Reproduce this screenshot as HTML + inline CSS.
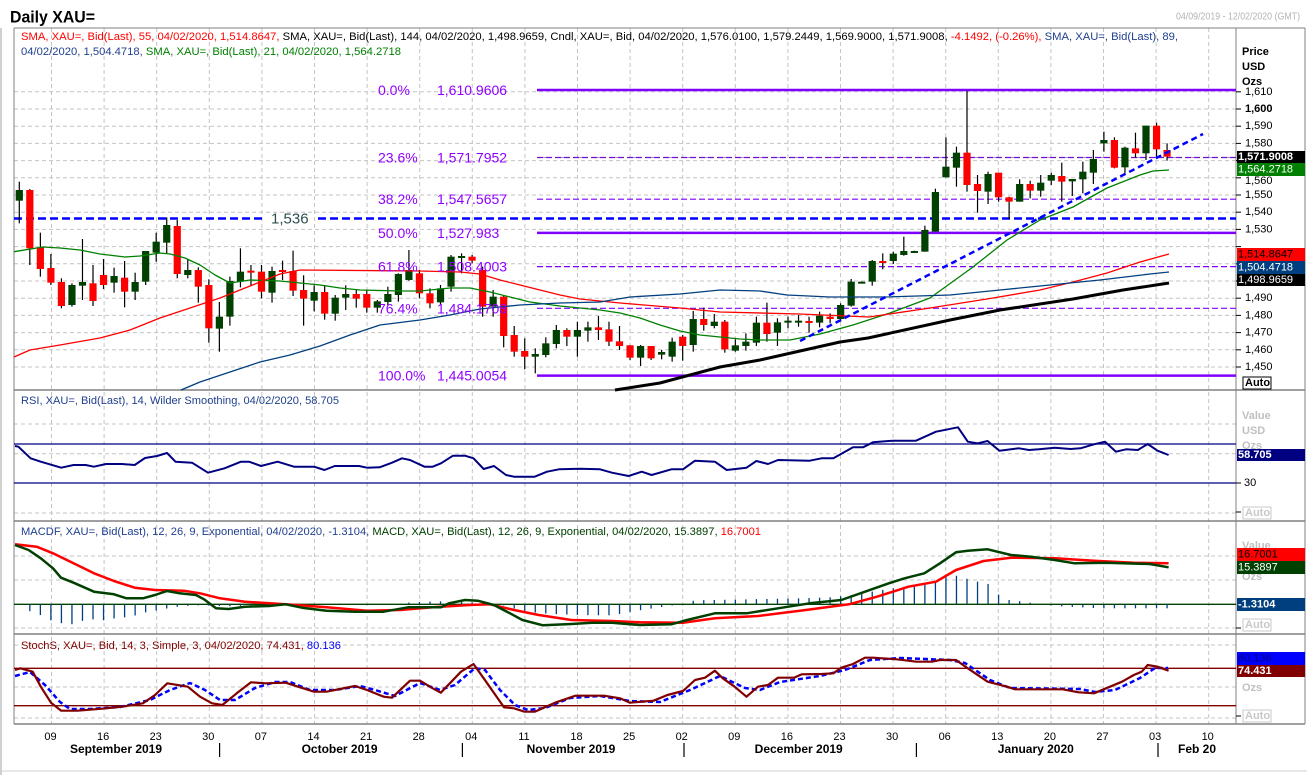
<!DOCTYPE html>
<html><head><meta charset="utf-8">
<style>
html,body{margin:0;padding:0;background:#fff;}
svg{display:block;font-family:"Liberation Sans",sans-serif;}
</style></head>
<body>
<svg id="c" width="1307" height="775" viewBox="0 0 1307 775" xmlns="http://www.w3.org/2000/svg"></svg>
<script>
(function(){
var s=[];
function L(x1,y1,x2,y2,c,w,d){s.push('<line x1="'+x1+'" y1="'+y1+'" x2="'+x2+'" y2="'+y2+'" stroke="'+c+'" stroke-width="'+(w||1)+'"'+(d?' stroke-dasharray="'+d+'"':'')+'/>');}
function R(x,y,w,h,f,st){s.push('<rect x="'+x+'" y="'+y+'" width="'+w+'" height="'+h+'" fill="'+f+'"'+(st?' stroke="'+st+'"':'')+'/>');}
function T(x,y,t,c,sz,b,extra){s.push('<text x="'+x+'" y="'+y+'" fill="'+c+'" font-size="'+sz+'"'+(b?' font-weight="bold"':'')+(extra||'')+' dominant-baseline="central">'+t+'</text>');}
function P(pts,c,w,d){var p=pts.map(function(a){return a[0]+','+a[1]}).join(' ');s.push('<polyline points="'+p+'" fill="none" stroke="'+c+'" stroke-width="'+w+'" stroke-linejoin="round"'+(d?' stroke-dasharray="'+d+'"':'')+'/>');}
var PL=14,PR=1236,FR=1305;
R(0,0,1307,775,'#fff');
// title
T(10,17,'Daily XAU=','#000',17,true,' textLength="85" lengthAdjust="spacingAndGlyphs"');
T(1176,17,'04/09/2019 - 12/02/2020 (GMT)','#b4b4b4',10,false,' textLength="124" lengthAdjust="spacingAndGlyphs"');
// grids
var gc='#c4c4c4',gd='4,3';
for(var k=0;k<23;k++){var x=51.5+52.6*k;L(x,28,x,724,gc,1,gd);}
function py(p){return 109+(1600-p)*1.72;}
for(var p=1450;p<=1610;p+=10){L(PL,py(p),PR,py(p),gc,1,gd);}
[424,453.8,513].forEach(function(y){L(PL,y,PR,y,gc,1,gd);});
[556,580,628].forEach(function(y){L(PL,y,PR,y,gc,1,gd);});
[645,687,718].forEach(function(y){L(PL,y,PR,y,gc,1,gd);});
// frames
L(1,28,1,775,'#a0a0a0',1);
L(PL,28,FR,28,'#808080',1);L(PL,28,PL,724,'#808080',1);L(FR,28,FR,724,'#808080',1);
L(PR,28,PR,724,'#808080',1);
[390,521,634,724].forEach(function(y){L(PL,y,FR,y,'#808080',1.5);});
L(0,771,1307,771,'#d0d0d0',1);
// fib lines
var fc='#8000ff';
L(537,90,PR,90,fc,2.5);L(537,157.5,PR,157.5,fc,1.2,'6,3');L(537,199.2,PR,199.2,fc,1.2,'6,3');
L(537,232.9,PR,232.9,fc,2.5);L(537,266.6,PR,266.6,fc,1.2,'6,3');L(537,308.3,PR,308.3,fc,1.2,'6,3');L(537,375.6,PR,375.6,fc,2.5);
L(537,157.5,PR,157.5,'#404040',0.6,'3,3');
// 1536 line
L(PL,218.5,264,218.5,'#0000ff',2.5,'8,4');L(318,218.5,PR,218.5,'#0000ff',2.5,'8,4');
T(271,219,'1,536','#2f4f4f',15,false);
// candles
var z4=[[35,60,92,160,'g'],[57,60,235,285,'r'],[188,232,297,320,'r'],[252,294,338,345,'r'],[325,336,408,415,'r'],[340,345,405,410,'g'],[207,336,347,390,'g'],[285,340,393,408,'r'],[267,315,345,357,'r'],[293,318,338,368,'g'],[273,323,365,412,'r'],[308,336,365,390,'g'],[243,243,335,345,'g'],[188,215,248,275,'g'],[142,165,218,250,'g'],[150,168,312,325,'r'],[268,300,315,325,'g'],[292,300,350,398,'r'],[328,345,475,518,'r'],[396,440,476,545,'g'],[320,333,440,467,'g'],[235,305,335,352,'g'],[285,302,307,348,'r'],[285,305,365,385,'r'],[290,303,368,398,'g'],[272,300,305,330,'r'],[242,303,362,378,'r'],[316,360,386,467,'r'],[346,366,392,424,'g'],[345,366,431,449,'r'],[375,383,431,452,'g'],[346,372,383,420,'g'],[360,372,386,413,'r'],[360,372,413,428,'r'],[390,394,413,428,'g'],[350,372,396,405,'g'],[310,312,375,395,'g'],[240,300,330,332,'g'],[300,310,370,385,'r']];
var z5=[[145,160,190,205,'r'],[135,145,187,195,'g'],[45,50,140,155,'g'],[40,48,50,100,'g'],[45,50,62,70,'r'],[80,90,200,230,'r'],[150,170,200,230,'g'],[165,170,288,322,'r'],[258,285,335,350,'r'],[295,333,350,388,'r'],[325,342,350,400,'g'],[292,310,345,352,'g'],[255,270,312,325,'g'],[265,270,290,318,'r'],[245,270,290,350,'g'],[245,262,272,305,'g'],[228,262,270,300,'r'],[245,268,305,318,'r'],[258,304,318,330,'r'],[315,316,353,360,'r'],[315,318,353,378,'g'],[318,318,355,360,'r'],[330,336,344,358,'g'],[293,305,350,365,'g'],[285,290,318,362,'r'],[213,237,315,335,'g'],[203,237,255,272,'r'],[222,245,258,265,'g'],[240,245,328,338,'r'],[298,316,332,335,'g'],[280,305,318,332,'g'],[230,248,308,318,'g'],[188,248,282,305,'r'],[235,247,278,318,'g'],[230,242,245,265,'g'],[225,242,245,260,'g'],[230,243,248,278,'r'],[215,227,248,262,'g'],[220,230,237,250,'r'],[190,195,237,245,'g'],[117,125,197,200,'g']];
var z6=[[605,605,609,609,'g'],[540,543,605,617,'g'],[520,543,548,568,'r'],[515,521,543,552,'g'],[470,513,525,527,'g'],[512,513,516,516,'g'],[437,450,515,515,'g'],[326,336,455,455,'g'],[172,260,292,292,'g'],[200,218,263,320,'g'],[32,218,315,335,'r'],[285,312,333,398,'r'],[275,282,335,372,'g'],[278,278,352,365,'r'],[350,352,365,418,'r'],[298,312,365,365,'g'],[302,312,332,355,'r'],[285,308,332,350,'g'],[278,285,302,315,'g'],[248,288,305,365,'r'],[297,297,304,348,'g'],[245,275,298,340,'g'],[210,237,278,312,'g'],[155,180,190,215,'g'],[172,180,263,265,'r'],[200,203,262,282,'g'],[158,205,220,232,'r'],[137,137,220,240,'g'],[128,137,208,235,'r'],[190,210,230,242,'r']];
var C=[];
z4.forEach(function(a){C.push([170+a[0]/3,170+a[1]/3,170+a[2]/3,170+a[3]/3,a[4]]);});
z5.forEach(function(a){C.push([240+a[0]/3,240+a[1]/3,240+a[2]/3,240+a[3]/3,a[4]]);});
z6.forEach(function(a){C.push([80+a[0]/3,80+a[1]/3,80+a[2]/3,80+a[3]/3,a[4]]);});
C.forEach(function(a,i){var x=19.3+i*10.53;L(x,a[0],x,a[3],'#000',1.2);var h=Math.max(a[2]-a[1],2);R(x-3.6,a[1],7.2,h,a[4]=='g'?'#004000':'#ff0000');});
// MAs
P([[14,251.7],[43,247],[60,248],[80,250],[100,254],[125,257],[140,256],[160,253],[170,254],[185,258],[200,265],[215,275],[230,283],[250,280],[280,281],[300,283],[320,285],[340,288],[360,290],[400,291],[420,291],[450,288],[470,288],[490,292],[510,297],[530,302],[560,306],[580,308],[600,310],[620,313],[640,318],[660,325],[680,331],[700,335],[720,337],[740,339],[760,340],[790,340],[820,334],[853,325],[890,313],[930,298],[973,267],[1007,240],[1040,220],[1073,207],[1107,188],[1140,175],[1153,171],[1169,170]],'#008000',1.3);
P([[14,357],[30,350],[60,345],[100,338],[130,330],[160,318],[190,308],[220,298],[240,290],[260,282],[280,274],[300,270],[420,271],[460,272],[480,274],[500,280],[520,285],[540,290],[560,295],[580,299],[620,303],[680,308],[720,312],[800,314],[869,317],[930,308],[987,299],[1040,290],[1073,282],[1107,273],[1140,262],[1169,254]],'#ff0000',1.3);
P([[181,390],[200,382],[230,372],[260,362],[290,355],[320,346],[350,335],[380,325],[420,320],[450,315],[480,309],[520,305],[560,303],[600,302],[630,297],[680,294],[720,290],[760,291],[787,295],[830,297],[885,297],[950,295],[1000,290],[1050,285],[1100,280],[1150,274],[1169,272]],'#003f7f',1.3);
P([[615,390],[660,383],[720,367],[760,360],[800,351],[840,342],[868,338],[950,320],[1000,310],[1073,299],[1123,290],[1169,283]],'#000',3);
// trendline
L(800,341,1203,134,'#0000ff',2.5,'6,4');
// fib labels
[['0.0%','1,610.9606',90],['23.6%','1,571.7952',157.5],['38.2%','1,547.5657',199.2],['50.0%','1,527.983',232.9],['61.8%','1,508.4003',266.6],['76.4%','1,484.1708',308.3],['100.0%','1,445.0054',375.6]].forEach(function(a){T(378,a[2],a[0],'#9000ff',14);T(437,a[2],a[1],'#9000ff',14);});
// legend main
s.push('<text x="21" y="37" font-size="11" dominant-baseline="central" textLength="1157" lengthAdjust="spacingAndGlyphs"><tspan fill="#ff0000">SMA, XAU=, Bid(Last),  55, 04/02/2020, 1,514.8647, </tspan><tspan fill="#000">SMA, XAU=, Bid(Last),  144, 04/02/2020, 1,498.9659, Cndl, XAU=, Bid, 04/02/2020, 1,576.0100, 1,579.2449, 1,569.9000, 1,571.9008, </tspan><tspan fill="#ff0000">-4.1492, (-0.26%), </tspan><tspan fill="#1f3f8f">SMA, XAU=, Bid(Last),  89,</tspan></text>');
s.push('<text x="21" y="52" font-size="11" dominant-baseline="central" textLength="380" lengthAdjust="spacingAndGlyphs"><tspan fill="#1f3f8f">04/02/2020, 1,504.4718, </tspan><tspan fill="#008000">SMA, XAU=, Bid(Last),  21, 04/02/2020, 1,564.2718</tspan></text>');
// right axis main
T(1242,52,'Price','#000',11,true);T(1242,67,'USD','#000',11,true);T(1242,82,'Ozs','#000',11,true);
for(var p=1450;p<=1610;p+=10){var y=py(p);L(PR,y,PR+5,y,'#000',1);if(p!=1560&&p!=1520&&p!=1510&&p!=1500)T(1245,y,(p+'').replace(/^(\d)/,'$1,'),'#000',11,p==1600);}
T(1245,py(1560)+3,'1,560','#000',11);
function box(y1,y2,bg,fg,t,b){R(PR+1,y1,FR-PR-1,y2-y1,bg);T(PR+2,(y1+y2)/2,t,fg,11,b!==false);}
box(151,163,'#000','#fff','1,571.9008');box(163,176,'#008000','#fff','1,564.2718',false);
box(248,261,'#ff0000','#000','1,514.8647',false);box(261,274,'#003f7f','#fff','1,504.4718',false);box(274,286,'#000','#fff','1,498.9659',false);
R(1243,377,28,12,'#fff','#000');T(1245,383,'Auto','#000',11,true);
// RSI
T(21,401,'RSI, XAU=, Bid(Last),  14, Wilder Smoothing, 04/02/2020, 58.705','#1f3f8f',11,false,' textLength="318" lengthAdjust="spacingAndGlyphs"');
L(PL,444,PR,444,'#000080',1.3);L(PL,483,PR,483,'#000080',1.3);
P([[15,446],[18.4,446.7],[30.6,458.3],[40.8,461.7],[61.2,467.7],[73.5,465],[85.7,465],[93.9,466.7],[106,464],[122,464],[134.7,465],[145,458],[157,456],[167,453],[175.5,461.7],[192,462.7],[208,472.7],[224.5,468.3],[241,461.7],[249,461.7],[261,466],[277.6,461.7],[294,466.7],[314,466.7],[324.5,470],[334.7,466],[359,466],[367,467.7],[379.6,467.3],[392,462.7],[402,458.3],[410,460],[424.5,466.7],[432.7,466.7],[441,463.3],[453,455.7],[465,455.7],[473.5,458.3],[483.7,469],[494,466],[506,475],[514,476.7],[534.7,476.7],[547,471.7],[559,469.3],[579.6,468.7],[600,469.3],[612,472.7],[628.6,476],[641.7,471.7],[651.6,475],[671.4,469.3],[683,469.3],[695,460.7],[714.9,461.7],[726.7,470],[746.5,467.7],[756.4,461],[768,464],[778,460],[809.7,460.7],[821.6,458.3],[833.4,458.3],[853,447.3],[863,447.3],[873,442.3],[892.7,440.7],[916,440.7],[936,431.7],[948,429.3],[958,427.3],[967.8,441.7],[977.7,443.3],[987.6,441],[999.4,450.7],[1019,448.3],[1029,450],[1039,449.3],[1054.8,447.7],[1070.6,449],[1080.5,448.3],[1094,444.3],[1105,441.7],[1116,451.7],[1126,449.3],[1137.8,450],[1147.7,444],[1157.5,450.7],[1168.6,455]],'#000080',2);
T(1242,416,'Value','#c0c0c0',11,true);T(1242,431,'USD','#c0c0c0',11,true);T(1242,446,'Ozs','#c0c0c0',11,true);
box(449,461,'#000080','#fff','58.705');
L(PR,483,PR+5,483,'#000',1);T(1244,483,'30','#000',11);
L(PR,512,PR+5,512,'#000',1);R(1243,507,28,12,'#fff','#c8c8c8');T(1245,513,'Auto','#c8c8c8',11,true);
// MACD
s.push('<text x="21" y="532" font-size="11" dominant-baseline="central" textLength="740" lengthAdjust="spacingAndGlyphs"><tspan fill="#1f3f8f">MACDF, XAU=, Bid(Last),  12, 26, 9, Exponential, 04/02/2020, -1.3104, </tspan><tspan fill="#004000">MACD, XAU=, Bid(Last),  12, 26, 9, Exponential, 04/02/2020, 15.3897, </tspan><tspan fill="#ff0000">16.7001</tspan></text>');
L(PL,604.3,PR,604.3,'#004000',1.3);
var hb=[[19,0],[30,7],[41,11],[51,16],[62,19],[73,20],[84,16],[94,15],[104,16],[115,14],[125,13],[136,11],[146,8],[157,6],[168,4],[180,2],[200,1],[230,2],[260,1],[300,0],[400,0],[410,-2],[440,-3],[470,-2],[500,0],[520,6],[540,9],[560,10],[590,11],[612,11],[640,6],[680,0],[695,-4],[750,-5],[800,-6],[830,-7],[850,-9],[880,-14],[900,-17],[930,-21],[945,-27],[955,-29],[965,-26],[980,-22],[990,-20],[1000,-8],[1010,-4],[1021,-3],[1040,0],[1060,2],[1100,4],[1170,4]];
function hv(x){for(var i=1;i<hb.length;i++){if(x<=hb[i][0]){var a=hb[i-1],b=hb[i];return a[1]+(b[1]-a[1])*(x-a[0])/(b[0]-a[0]);}}return 0;}
for(var i=0;i<110;i++){var x=19.3+i*10.53;var v=hv(x);if(Math.abs(v)>0.8)L(x,604.3,x,604.3+v,'#003f7f',1.3);}
P([[15,544.3],[36.7,546.7],[53,553.3],[73.5,563.3],[94,573.3],[114,581],[134.7,587.7],[155,590],[183.7,590.7],[200,593.3],[220,598.3],[245,601.7],[285.7,604.3],[326.5,607.3],[367,610.7],[400,610],[432.7,607.3],[469.4,605],[490,604.3],[514,610],[538.8,615],[571.4,620],[612,621],[640,622.3],[683,622.7],[714.9,618.3],[758,616],[805.8,610],[849,604.3],[877,596.7],[908.5,586.7],[936,581.7],[956,570],[983.6,561],[1011,557.7],[1054.8,558.3],[1094,560.7],[1133.8,562.7],[1168.6,563.3]],'#ff0000',2.5);
P([[15,545],[28.6,550],[40.8,558.3],[53,568.3],[61,577.7],[73.5,582.7],[94,591.7],[114,594.3],[126.5,598.3],[143,598.3],[155,595],[167,591],[179.6,593.3],[196,595],[204,599.3],[216,608.3],[228.6,609],[245,606.7],[269,606],[285.7,604.3],[302,607.7],[326.5,610.7],[355,611.7],[383.7,611.7],[408,607.3],[441,607.3],[449,603.3],[465,600],[477.6,600.7],[494,605],[510,613.3],[522.4,620],[543,625.3],[571.4,624],[592,622.7],[612,622.7],[639.8,625],[671.4,624.3],[687,620],[714.9,613.3],[746.5,613.3],[778,608.3],[809.7,603.3],[841.3,600],[865,591.7],[888.8,583.3],[904.6,578.3],[924.3,573.3],[940,563.3],[956,552.3],[967.8,550.7],[987.6,549.3],[1011,555],[1031,556.7],[1054.8,560],[1074.5,563.3],[1106,562.7],[1149.6,564],[1168.6,567.3]],'#004000',2.5);
T(1242,546,'Value','#c0c0c0',11,true);T(1242,577,'Ozs','#c0c0c0',11,true);
box(548,561,'#ff0000','#000','16.7001',false);box(561,574,'#004000','#fff','15.3897',false);box(598,611,'#003f7f','#fff','-1.3104');
L(PR,628,PR+5,628,'#000',1);R(1243,619,28,12,'#fff','#c8c8c8');T(1245,625,'Auto','#c8c8c8',11,true);
// Stoch
s.push('<text x="21" y="646" font-size="11" dominant-baseline="central" textLength="320" lengthAdjust="spacingAndGlyphs"><tspan fill="#800000">StochS, XAU=, Bid,  14, 3, Simple, 3, 04/02/2020, 74.431, </tspan><tspan fill="#0000ff">80.136</tspan></text>');
L(PL,668.3,PR,668.3,'#800000',1.3);L(PL,705.7,PR,705.7,'#800000',1.3);
P([[15,676],[30,672],[45,685],[60,702],[70,709],[90,709],[120,707],[150,700],[170,690],[190,683],[205,690],[220,700],[235,700],[255,688],[275,682],[290,682],[310,690],[335,690],[360,686],[375,690],[395,696],[420,683],[440,690],[455,685],[475,668],[485,670],[500,690],[515,705],[528,710],[545,708],[570,698],[600,696],[630,701],[660,702],[690,690],[720,676],[745,688],[760,690],[780,682],[820,676],[845,670],[870,660],[900,658],[950,660],[965,663],[990,680],[1010,688],[1080,689],[1095,692],[1115,690],[1140,678],[1155,668],[1168,668]],'#0000ff',2.5,'5,3');
P([[15,670],[20.4,668.3],[32.7,671.7],[40.8,686.7],[51,702.7],[61.2,710.7],[77.6,710.7],[102,708.7],[122.4,706.7],[142.9,703.3],[155,695],[167.3,683.3],[187.8,686.7],[200,696.7],[212,703.3],[222.4,705],[236.7,693.3],[251,682.3],[265.3,683.3],[285.7,682.7],[298,686.7],[314,691.7],[326.5,691.7],[355,686],[367,690],[383.7,696.7],[392,697.7],[410,680.7],[420,680.7],[432.7,688.3],[440.8,692.7],[461,671.7],[473.5,664],[483.7,678.3],[504,707.3],[514,708.3],[524.5,711.7],[534.7,711.7],[555,702.7],[575.5,695.7],[604,695.7],[620,698.3],[630,702.7],[653.6,700.7],[667.4,695],[683,691],[695,680],[705,677.7],[714.9,670.7],[722.8,678.3],[734.6,686.7],[746.5,696.7],[758,686.7],[768,685],[778,677.7],[794,677.7],[801.8,674.3],[821.6,674],[833.4,673.3],[841.3,667.7],[853,664],[865,657.7],[873,657.7],[896.7,659.3],[916.4,661.7],[932,661.7],[940,660],[956,660],[967.8,668.3],[987.6,681.7],[1007,686.7],[1015,689.3],[1062.7,689.3],[1078.5,692.3],[1094,693.3],[1110,686.7],[1122,681.7],[1133.8,675],[1141.7,671.7],[1147.7,665],[1157.5,666.7],[1168.6,670.7]],'#800000',2.2);
box(652,665,'#0000ff','#000080','80.136',false);box(665,677,'#800000','#fff','74.431');
T(1242,688,'Ozs','#c0c0c0',11,true);
L(PR,716,PR+5,716,'#000',1);R(1243,710,28,12,'#fff','#c8c8c8');T(1245,716,'Auto','#c8c8c8',11,true);
// date axis
var days=['09','16','23','30','07','14','21','28','04','11','18','25','02','09','16','23','30','06','13','20','27','03','10'];
days.forEach(function(d,k){var x=50.5+52.6*k;s.push('<text x="'+x+'" y="737" fill="#000" font-size="11" text-anchor="middle" dominant-baseline="central">'+d+'</text>');});
[219.6,462.4,684,916.4,1158].forEach(function(x){L(x,743,x,757,'#000',1.2);});
[['September 2019',116],['October 2019',339.6],['November 2019',571],['December 2019',798.7],['January 2020',1035.8],['Feb 20',1197]].forEach(function(a){s.push('<text x="'+a[1]+'" y="749" fill="#000" font-size="12" font-weight="bold" text-anchor="middle" dominant-baseline="central">'+a[0]+'</text>');});
document.getElementById('c').innerHTML=s.join('');
})();
</script>
</body></html>
